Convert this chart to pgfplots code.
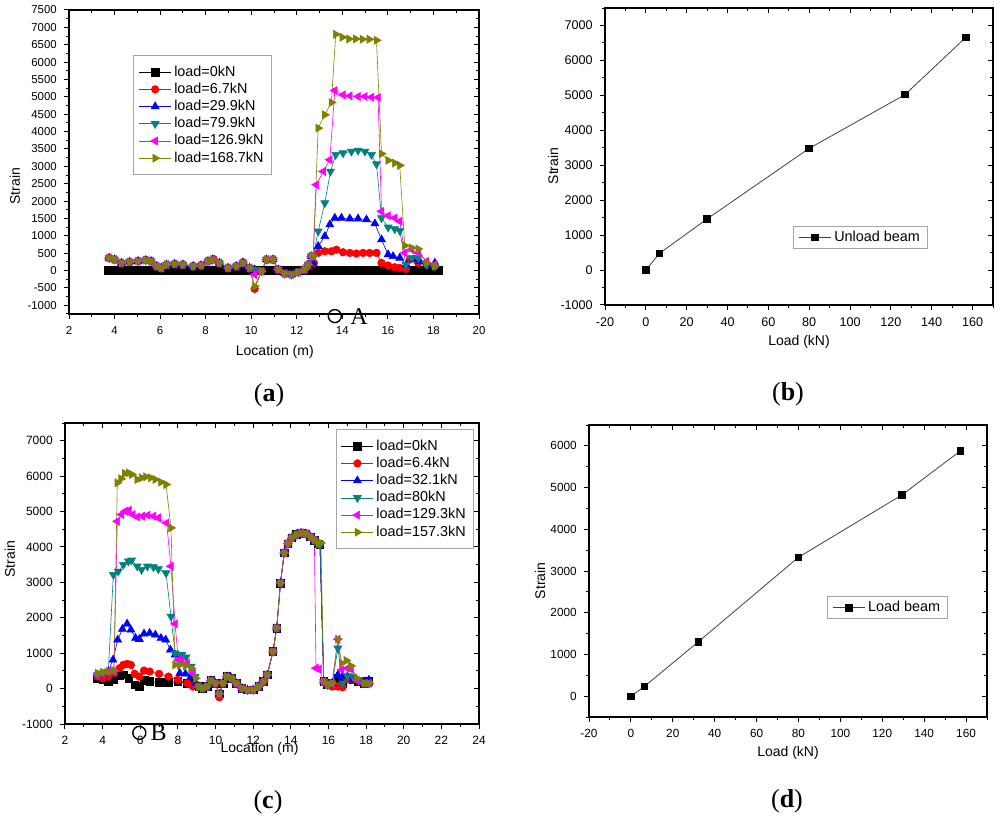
\documentclass[border=0pt]{standalone}
\usepackage{fontspec}
\setmainfont{Liberation Sans}
\newfontfamily\tnr{Liberation Serif}
\usepackage{pgfplots}
\pgfplotsset{compat=1.18}
\usepackage{pgfplotstable}
\definecolor{oteal}{RGB}{0,128,128}
\definecolor{omag}{RGB}{255,0,255}
\definecolor{oolive}{RGB}{128,128,0}

\pgfplotsset{
 obase/.style={scale only axis, anchor=south west,
   axis line style={line width=0.6pt},
   every tick/.style={black, line width=0.5pt},
   major tick length=2.6pt, minor tick length=1.6pt,
   /pgf/number format/assume math mode=true,
   /pgf/number format/1000 sep={}},
 omain/.style={obase, tick align=outside, xtick pos=bottom, ytick pos=left, clip=false},
 omirror/.style={obase, tick align=inside, xtick pos=top, ytick pos=right,
   xticklabels={}, yticklabels={}},
 oleg/.style={legend cell align=left,
   legend style={draw=gray!70, line width=0.5pt, fill=white,
     font=\fontsize{7.2}{8}\selectfont, row sep=0.5pt, inner xsep=2.5pt, inner ysep=4.3pt,
     nodes={inner xsep=1.4pt, inner ysep=0.6pt, text height=5.4pt, text depth=1.5pt}},
   legend image code/.code={\draw[mark repeat=2,mark phase=2] plot coordinates {(0pt,0pt) (8pt,0pt) (16pt,0pt)};}},
 sblack/.style={black, line width=0.3pt, mark=square*, mark size=1.9pt, mark options={solid}},
 sred/.style={red, line width=0.3pt, mark=*, mark size=1.9pt},
 sblue/.style={blue, line width=0.3pt, mark=triangle*, mark size=2.3pt},
 steal/.style={oteal, line width=0.3pt, mark=triangle*, mark size=2.3pt, mark options={rotate=180}},
 smag/.style={omag, line width=0.3pt, mark=triangle*, mark size=2.3pt, mark options={rotate=90}},
 solive/.style={oolive, line width=0.3pt, mark=triangle*, mark size=2.3pt, mark options={rotate=-90}},
}

% ---------------- panel (a) data ----------------
\pgfplotstableread{
x y
3.7 0
3.9 0
4.1 0
4.3 0
4.5 0
4.7 0
4.9 0
5.1 0
5.3 0
5.5 0
5.7 0
5.9 0
6.1 0
6.3 0
6.5 0
6.7 0
6.9 0
7.1 0
7.3 0
7.5 0
7.7 0
7.9 0
8.1 0
8.3 0
8.5 0
8.7 0
8.9 0
9.1 0
9.3 0
9.5 0
9.7 0
9.9 0
10.1 0
10.3 0
10.5 0
10.7 0
10.9 0
11.1 0
11.3 0
11.5 0
11.7 0
11.9 0
12.1 0
12.3 0
12.5 0
12.7 0
12.9 0
13.1 0
13.3 0
13.5 0
13.7 0
13.9 0
14.1 0
14.3 0
14.5 0
14.7 0
14.9 0
15.1 0
15.3 0
15.5 0
15.7 0
15.9 0
16.1 0
16.3 0
16.5 0
16.7 0
16.9 0
17.1 0
17.3 0
17.5 0
17.7 0
17.9 0
18.1 0
18.2 0
}\aBlack

\pgfplotstableread{
x y
3.76 364
4.0 316
4.3 220
4.66 250
5.03 270
5.37 300
5.6 270
5.84 125
6.05 77
6.28 170
6.64 190
7.0 170
7.45 125
7.8 150
8.1 270
8.35 330
8.6 220
8.98 77
9.35 125
9.64 240
9.93 77
10.15 -527
10.45 -20
10.67 316
10.96 316
11.18 30
11.47 -86
11.77 -115
12.06 -48
12.35 30
12.5 170
12.64 410
12.75 220
12.94 508
13.23 555
13.52 555
13.74 600
14.03 527
14.33 508
14.62 490
14.91 508
15.2 508
15.5 508
15.72 220
16.01 144
16.3 96
16.52 77
16.79 48
16.96 316
17.33 220
17.7 170
18.06 125
}\aRed

\pgfplotstableread{
x y
3.76 364
4.0 316
4.3 220
4.66 250
5.03 270
5.37 300
5.6 270
5.84 125
6.05 77
6.28 170
6.64 190
7.0 170
7.45 125
7.8 150
8.1 270
8.3 316
8.6 220
8.98 77
9.35 125
9.64 220
9.93 77
10.15 30
10.45 -20
10.67 316
10.96 316
11.18 30
11.47 -86
11.77 -115
12.06 -48
12.35 30
12.5 170
12.64 410
12.72 220
12.94 700
13.23 987
13.45 1322
13.67 1514
13.96 1514
14.33 1494
14.69 1494
15.06 1466
15.43 1351
15.72 891
16.01 460
16.23 412
16.52 364
16.81 170
17.11 316
17.4 268
17.7 170
18.06 220
}\aBlue

\pgfplotstableread{
x y
3.76 364
4.0 316
4.3 220
4.66 250
5.03 270
5.37 300
5.6 270
5.84 125
6.05 77
6.28 170
6.64 190
7.0 170
7.45 125
7.8 150
8.1 270
8.3 316
8.6 220
8.98 77
9.35 125
9.64 220
9.93 77
10.15 30
10.45 -20
10.67 316
10.96 316
11.18 30
11.47 -86
11.77 -115
12.06 -48
12.35 30
12.5 170
12.64 410
12.72 410
12.94 1130
13.23 1945
13.48 2855
13.71 3334
14.03 3381
14.4 3429
14.69 3458
14.99 3429
15.28 3334
15.5 3065
15.72 1514
16.01 1245
16.3 1197
16.52 1150
16.79 170
17.04 364
17.33 364
17.7 170
18.06 125
}\aTeal

\pgfplotstableread{
x y
3.76 364
4.0 316
4.3 220
4.66 250
5.03 270
5.37 300
5.6 270
5.84 125
6.05 77
6.28 170
6.64 190
7.0 170
7.45 125
7.8 150
8.1 270
8.3 316
8.6 220
8.98 77
9.35 125
9.64 220
9.93 77
10.15 -115
10.45 -20
10.67 316
10.96 316
11.18 30
11.47 -86
11.77 -115
12.06 -48
12.35 30
12.5 170
12.64 410
12.72 410
12.86 2471
13.16 2855
13.45 3190
13.67 5182
14.03 5057
14.33 5029
14.69 5010
14.99 5010
15.28 4990
15.57 4981
15.72 1705
16.01 1580
16.3 1513
16.52 1418
16.74 508
17.04 603
17.33 508
17.7 268
18.06 172
}\aMag

\pgfplotstableread{
x y
3.76 364
4.0 316
4.3 220
4.66 250
5.03 270
5.37 300
5.6 270
5.84 125
6.05 77
6.28 170
6.64 190
7.0 170
7.45 125
7.8 150
8.1 270
8.3 316
8.6 220
8.98 77
9.35 125
9.64 220
9.93 77
10.15 -450
10.45 -20
10.67 316
10.96 316
11.18 30
11.47 -86
11.77 -115
12.06 -48
12.35 30
12.5 170
12.64 410
12.72 410
12.94 4100
13.23 4483
13.52 4837
13.71 6801
14.0 6715
14.29 6667
14.59 6667
14.88 6657
15.18 6657
15.5 6628
15.72 3362
16.01 3170
16.3 3094
16.52 3027
16.74 718
17.04 651
17.33 622
17.7 220
18.06 125
}\aOlive

% ---------------- panel (c) data ----------------
\pgfplotstableread{
x y
3.72 292
4.0 245
4.3 200
4.6 265
4.9 360
5.1 387
5.4 292
5.7 104
5.95 57
6.2 226
6.5 200
7.0 170
7.5 170
8.0 200
8.5 150
8.8 150
9.1 57
9.3 10
9.55 57
9.75 226
10.0 150
10.2 -151
10.4 150
10.6 340
10.85 292
11.1 150
11.4 10
11.7 -38
12.0 -38
12.3 57
12.55 200
12.75 387
13.05 1047
13.25 1708
13.45 2980
13.65 3830
13.85 4094
14.05 4255
14.3 4349
14.55 4396
14.8 4377
15.05 4283
15.25 4189
15.45 4094
15.55 4066
15.75 200
15.95 104
16.2 150
16.5 292
16.75 150
17.0 292
17.3 245
17.6 200
17.9 150
18.15 200
}\cBlack

\pgfplotstableread{
x y
3.72 340
4.0 292
4.3 340
4.6 453
4.9 575
5.1 670
5.3 698
5.5 670
5.7 415
5.95 340
6.2 509
6.5 481
7.0 415
7.5 340
8.0 245
8.5 150
8.8 57
9.1 57
9.3 10
9.55 57
9.75 226
10.0 150
10.2 -245
10.4 150
10.6 340
10.85 292
11.1 150
11.4 10
11.7 -38
12.0 -38
12.3 57
12.55 200
12.75 387
13.05 1047
13.25 1708
13.45 2980
13.65 3830
13.85 4094
14.05 4255
14.3 4349
14.55 4396
14.8 4377
15.05 4283
15.25 4189
15.45 4094
15.55 4066
15.75 200
15.95 104
16.2 57
16.5 57
16.75 38
17.0 264
17.3 245
17.6 200
17.9 150
18.15 150
}\cRed

\pgfplotstableread{
x y
3.72 387
4.0 415
4.3 481
4.55 811
4.8 1377
5.05 1679
5.3 1830
5.5 1660
5.75 1425
5.95 1396
6.2 1547
6.5 1566
6.8 1519
7.1 1425
7.35 1377
7.6 1094
7.85 953
8.1 434
8.4 415
8.7 340
8.95 150
9.1 57
9.3 10
9.55 57
9.75 226
10.0 150
10.2 -151
10.4 150
10.6 340
10.85 292
11.1 150
11.4 10
11.7 -38
12.0 -38
12.3 57
12.55 200
12.75 387
13.05 1047
13.25 1708
13.45 2980
13.65 3830
13.85 4094
14.05 4255
14.3 4349
14.55 4396
14.8 4377
15.05 4283
15.25 4189
15.45 4094
15.55 4066
15.75 200
15.95 104
16.2 150
16.5 387
16.75 340
17.0 340
17.3 245
17.6 200
17.9 200
18.15 245
}\cBlue

\pgfplotstableread{
x y
3.72 387
4.0 434
4.3 481
4.57 3217
4.83 3311
5.1 3500
5.37 3594
5.54 3623
5.84 3453
6.07 3358
6.38 3453
6.7 3434
6.96 3377
7.37 3264
7.63 2038
7.85 1000
8.2 953
8.43 887
8.7 623
8.91 340
9.1 57
9.3 10
9.55 57
9.75 226
10.0 150
10.2 -151
10.4 150
10.6 340
10.85 292
11.1 150
11.4 10
11.7 -38
12.0 -38
12.3 57
12.55 200
12.75 387
13.05 1047
13.25 1708
13.45 2980
13.65 3830
13.85 4094
14.05 4255
14.3 4349
14.55 4396
14.8 4377
15.05 4283
15.25 4189
15.45 4094
15.55 4066
15.75 200
15.95 104
16.2 150
16.5 1141
16.75 150
17.0 358
17.3 340
17.6 245
17.9 150
18.15 150
}\cTeal

\pgfplotstableread{
x y
3.72 387
4.0 434
4.3 481
4.6 481
4.78 4726
5.0 4915
5.2 5009
5.4 5038
5.6 4915
5.85 4849
6.1 4868
6.4 4896
6.7 4868
6.95 4820
7.4 4679
7.63 3453
7.85 1830
8.02 811
8.2 792
8.5 717
8.8 434
9.1 57
9.3 10
9.55 57
9.75 226
10.0 150
10.2 -151
10.4 150
10.6 340
10.85 292
11.1 150
11.4 10
11.7 -38
12.0 -38
12.3 57
12.55 200
12.75 387
13.05 1047
13.25 1708
13.45 2980
13.65 3830
13.85 4094
14.05 4255
14.3 4349
14.55 4396
14.8 4377
15.05 4283
15.25 4189
15.34 575
15.5 547
15.75 200
15.95 104
16.2 150
16.5 1396
16.7 528
17.0 575
17.2 547
17.5 245
17.9 150
18.15 150
}\cMag

\pgfplotstableread{
x y
3.72 434
4.0 460
4.3 480
4.6 509
4.78 5811
4.98 5925
5.18 6075
5.38 6094
5.55 6047
5.84 5906
6.07 5953
6.3 5981
6.55 5953
6.8 5906
7.1 5830
7.37 5764
7.63 4538
7.85 670
8.1 670
8.4 642
8.7 575
8.95 292
9.1 57
9.3 10
9.55 57
9.75 226
10.0 150
10.2 -151
10.4 150
10.6 340
10.85 292
11.1 150
11.4 10
11.7 -38
12.0 -38
12.3 57
12.55 200
12.75 387
13.05 1047
13.25 1708
13.45 2980
13.65 3830
13.85 4094
14.05 4255
14.3 4349
14.55 4396
14.8 4377
15.05 4283
15.25 4189
15.45 4094
15.6 4113
15.75 200
15.95 104
16.2 150
16.5 1396
16.7 717
16.95 792
17.2 642
17.5 292
17.9 150
18.15 150
}\cOlive

\begin{document}
\begin{tikzpicture}
\path[use as bounding box] (0,0) rectangle (500pt,-408.5pt);

% ================= (a) =================
\begin{axis}[omain, oleg, at={(34.5pt,-157pt)}, width=205pt, height=152pt,
  xmin=2, xmax=20, ymin=-1250, ymax=7500,
  xtick={2,4,...,20}, minor xtick={3,5,...,19},
  ytick={-1000,-500,...,7500}, minor ytick={-1250,-750,...,7250},
  tick label style={font=\fontsize{5.7}{6}\selectfont},
  xlabel={Location (m)}, ylabel={Strain},
  label style={font=\fontsize{7}{8}\selectfont},
  xlabel style={at={(axis description cs:0.502,-0.125)}, anchor=center},
  ylabel style={at={(axis description cs:-0.132,0.42)}, anchor=center, rotate=0},
  legend style={at={(0.157,0.852)}, anchor=north west}]
\addplot[sblack] table {\aBlack};
\addplot[sred] table {\aRed};
\addplot[sblue] table {\aBlue};
\addplot[steal] table {\aTeal};
\addplot[smag] table {\aMag};
\addplot[solive] table {\aOlive};
\legend{load=0kN, load=6.7kN, load=29.9kN, load=79.9kN, load=126.9kN, load=168.7kN}
\node[circle, draw, line width=0.7pt, inner sep=0pt, minimum size=6.5pt] at (axis cs:13.67,-1310) {};
\node[font=\tnr\fontsize{12}{12}\selectfont, inner sep=0pt] at (axis cs:14.73,-1310) {A};
\end{axis}
\begin{axis}[omirror, at={(34.5pt,-157pt)}, width=205pt, height=152pt,
  xmin=2, xmax=20, ymin=-1250, ymax=7500,
  xtick={2,4,...,20}, minor xtick={3,5,...,19},
  ytick={-1000,-500,...,7500}, minor ytick={-1250,-750,...,7250}]
\end{axis}

% ================= (b) =================
\begin{axis}[omain, oleg, at={(302.5pt,-152.5pt)}, width=194pt, height=148.5pt,
  xmin=-20, xmax=170, ymin=-1000, ymax=7500,
  xtick={-20,0,...,160}, minor xtick={-10,10,...,170},
  ytick={-1000,0,...,7000}, minor ytick={-500,500,...,7500},
  tick label style={font=\fontsize{6.3}{7}\selectfont},
  xlabel={Load (kN)}, ylabel={Strain},
  label style={font=\fontsize{7}{8}\selectfont},
  xlabel style={at={(axis description cs:0.5,-0.125)}, anchor=center},
  ylabel style={at={(axis description cs:-0.134,0.468)}, anchor=center},
  legend style={at={(0.485,0.266)}, anchor=north west, inner ysep=1.5pt}]
\addplot[black!75, line width=0.4pt, mark=square*, mark size=1.6pt, mark options={black}] coordinates {
 (0,0) (6.7,480) (29.9,1460) (79.9,3480) (126.9,5020) (156.7,6660)};
\legend{Unload beam}
\end{axis}
\begin{axis}[omirror, at={(302.5pt,-152.5pt)}, width=194pt, height=148.5pt,
  xmin=-20, xmax=170, ymin=-1000, ymax=7500,
  xtick={-20,0,...,160}, minor xtick={-10,10,...,170},
  ytick={-1000,0,...,7000}, minor ytick={-500,500,...,7500}]
\end{axis}

% ================= (c) =================
\begin{axis}[omain, oleg, at={(32.5pt,-362pt)}, width=207pt, height=150.5pt,
  xmin=2, xmax=24, ymin=-1000, ymax=7500,
  xtick={2,4,...,24}, minor xtick={3,5,...,23},
  ytick={-1000,0,...,7000}, minor ytick={-500,500,...,7500},
  tick label style={font=\fontsize{6}{7}\selectfont},
  xlabel={Location (m)}, ylabel={Strain},
  label style={font=\fontsize{7}{8}\selectfont},
  xlabel style={at={(axis description cs:0.47,-0.083)}, anchor=center},
  ylabel style={at={(axis description cs:-0.133,0.548)}, anchor=center},
  legend style={at={(0.988,0.98)}, anchor=north east}]
\addplot[sblack] table {\cBlack};
\addplot[sred] table {\cRed};
\addplot[sblue] table {\cBlue};
\addplot[steal] table {\cTeal};
\addplot[smag] table {\cMag};
\addplot[solive] table {\cOlive};
\legend{load=0kN, load=6.4kN, load=32.1kN, load=80kN, load=129.3kN, load=157.3kN}
\node[circle, draw, line width=0.7pt, inner sep=0pt, minimum size=6.5pt] at (axis cs:5.95,-1250) {};
\node[font=\tnr\fontsize{12}{12}\selectfont, inner sep=0pt] at (axis cs:6.98,-1250) {B};
\end{axis}
\begin{axis}[omirror, at={(32.5pt,-362pt)}, width=207pt, height=150.5pt,
  xmin=2, xmax=24, ymin=-1000, ymax=7500,
  xtick={2,4,...,24}, minor xtick={3,5,...,23},
  ytick={-1000,0,...,7000}, minor ytick={-500,500,...,7500}]
\end{axis}

% ================= (d) =================
\begin{axis}[omain, oleg, at={(294.5pt,-358.5pt)}, width=199pt, height=146pt,
  xmin=-20, xmax=170, ymin=-500, ymax=6500,
  xtick={-20,0,...,160}, minor xtick={-10,10,...,170},
  ytick={0,1000,...,6000}, minor ytick={-500,500,...,6500},
  tick label style={font=\fontsize{5.9}{7}\selectfont},
  xlabel={Load (kN)}, ylabel={Strain},
  label style={font=\fontsize{7}{8}\selectfont},
  xlabel style={at={(axis description cs:0.5,-0.123)}, anchor=center},
  ylabel style={at={(axis description cs:-0.123,0.466)}, anchor=center},
  legend style={at={(0.598,0.414)}, anchor=north west, inner ysep=1.5pt}]
\addplot[black!75, line width=0.4pt, mark=square*, mark size=1.6pt, mark options={black}] coordinates {
 (0,0) (6.4,230) (32.1,1300) (80,3330) (129.3,4820) (157.3,5880)};
\legend{Load beam}
\end{axis}
\begin{axis}[omirror, at={(294.5pt,-358.5pt)}, width=199pt, height=146pt,
  xmin=-20, xmax=170, ymin=-500, ymax=6500,
  xtick={-20,0,...,160}, minor xtick={-10,10,...,170},
  ytick={0,1000,...,6000}, minor ytick={-500,500,...,6500}]
\end{axis}

% panel labels
\node[font=\tnr\fontsize{13}{13}\selectfont] at (134.5pt,-197.5pt) {(\textbf{a})};
\node[font=\tnr\fontsize{13}{13}\selectfont] at (394pt,-197pt) {(\textbf{b})};
\node[font=\tnr\fontsize{13}{13}\selectfont] at (134pt,-401pt) {(\textbf{c})};
\node[font=\tnr\fontsize{13}{13}\selectfont] at (393.5pt,-400.5pt) {(\textbf{d})};
\end{tikzpicture}
\end{document}
